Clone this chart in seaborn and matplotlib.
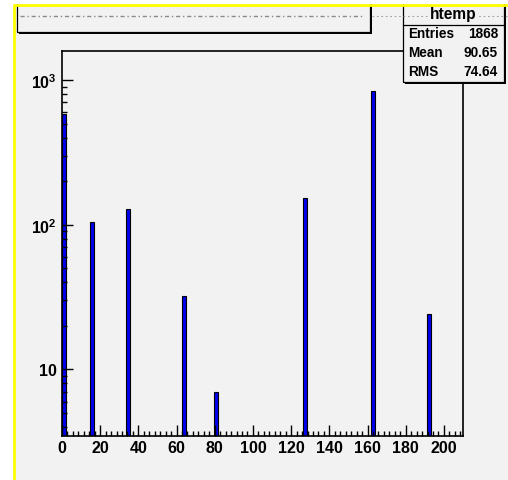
import numpy as np
import pandas as pd
import matplotlib
matplotlib.use("Agg")
import matplotlib.pyplot as plt
import seaborn as sns
from matplotlib.patches import Rectangle
from matplotlib.lines import Line2D
from matplotlib.ticker import FixedLocator, FuncFormatter, LogLocator, NullFormatter, AutoMinorLocator

# histogram content (filled value -> entries)
bin_values = [1, 16, 35, 64, 81, 127, 162, 192]
bin_counts = [578, 105, 128, 32, 7, 153, 841, 24]
x_ticks = [0, 20, 40, 60, 80, 100, 120, 140, 160, 180, 200]
y_ticks = [10, 100, 1000]
y_labels = ["10", "10$^2$", "10$^3$"]
hist_name = "htemp"
stat_names = ["Entries", "Mean", "RMS"]
stat_values = ["1868", "90.65", "74.64"]
bin_width = 2.1
x_range = (0, 210)
y_range = (3.47, 1586)

W, H = 508, 481
BG = "#f2f2f2"

plt.rcParams["font.family"] = ["Liberation Sans", "DejaVu Sans"]
plt.rcParams["font.weight"] = "bold"
plt.rcParams["mathtext.fontset"] = "custom"
plt.rcParams["mathtext.rm"] = "Liberation Sans:bold"
plt.rcParams["mathtext.default"] = "rm"


def fx(px):
    return px / W


def fy(py):
    return 1 - py / H


fig = plt.figure(figsize=(W / 100, H / 100), dpi=100, facecolor="white")

# canvas background
fig.patches.append(Rectangle((fx(14), -0.2), 1.2, fy(6) + 0.2, transform=fig.transFigure,
                             facecolor=BG, edgecolor="none", zorder=-5))

ax = fig.add_axes([fx(62), fy(437), fx(463) - fx(62), fy(52) - fy(437)])
ax.set_facecolor(BG)

df = pd.DataFrame({"value": bin_values, "entries": bin_counts})
sns.histplot(data=df, x="value", weights="entries", binwidth=bin_width, binrange=x_range,
             ax=ax, color="#0000f0", edgecolor="black", linewidth=0.8, alpha=1)
ax.set_yscale("log")
ax.set_xlim(*x_range)
ax.set_ylim(*y_range)
ax.set_xlabel("")
ax.set_ylabel("")

ax.xaxis.set_major_locator(FixedLocator(x_ticks))
ax.xaxis.set_minor_locator(AutoMinorLocator(7))
ax.yaxis.set_major_locator(FixedLocator(y_ticks))
ax.yaxis.set_major_formatter(FuncFormatter(lambda v, p: y_labels[y_ticks.index(round(v))] if round(v) in y_ticks else ""))
ax.yaxis.set_minor_locator(LogLocator(base=10, subs=np.arange(2, 10)))
ax.yaxis.set_minor_formatter(NullFormatter())

ax.tick_params(which="both", direction="in", top=False, right=False, width=1.0, color="black")
ax.tick_params(which="major", length=8, labelsize=11.5, pad=3)
ax.tick_params(which="minor", length=3.6)
ax.tick_params(axis="y", which="major", pad=4)
for lab in ax.get_xticklabels() + ax.get_yticklabels():
    lab.set_fontweight("bold")
for sp in ax.spines.values():
    sp.set_color("black")
    sp.set_linewidth(1.2)

# title pave (title text came out garbled in the original)
fig.patches.append(Rectangle((fx(19), fy(35)), (370 - 17) / W, 0.2, transform=fig.transFigure,
                             facecolor="black", edgecolor="none", zorder=5))
fig.patches.append(Rectangle((fx(17), fy(33)), (370 - 17) / W, 0.2, transform=fig.transFigure,
                             facecolor=BG, edgecolor="black", linewidth=0.9, zorder=6))

# stats box
fig.patches.append(Rectangle((fx(405), fy(85)), (504 - 403) / W, 0.3, transform=fig.transFigure,
                             facecolor="black", edgecolor="none", zorder=7))
fig.patches.append(Rectangle((fx(403), fy(83)), (504 - 403) / W, 0.3, transform=fig.transFigure,
                             facecolor=BG, edgecolor="black", linewidth=0.9, zorder=8))
fig.lines.append(Line2D([fx(403), fx(504)], [fy(26), fy(26)], transform=fig.transFigure,
                        color="black", linewidth=0.9, zorder=9))

fig.lines.append(Line2D([fx(20), fx(362)], [fy(17), fy(17)], transform=fig.transFigure,
                        color="#8a8a8a", linewidth=1.0, linestyle=(0, (3, 2, 1, 2)), zorder=10))
fig.lines.append(Line2D([fx(372), fx(508)], [fy(17), fy(17)], transform=fig.transFigure,
                        color="#a0a0a0", linewidth=0.8, linestyle=(0, (1.5, 2.5)), zorder=10))

fig.text(fx(453), fy(15), hist_name, ha="center", va="center", fontsize=11.2,
         fontweight="bold", zorder=11, bbox=dict(facecolor=BG, edgecolor="none", pad=0.5))
for i, (name, val) in enumerate(zip(stat_names, stat_values)):
    yy = fy(34 + i * 19)
    fig.text(fx(408), yy, name, ha="left", va="center", fontsize=9.8, fontweight="bold", zorder=11)
    fig.text(fx(498), yy, val, ha="right", va="center", fontsize=9.8, fontweight="bold", zorder=11)

# yellow highlight border of the canvas, on top of everything
fig.patches.append(Rectangle((0, 0), fx(13), 1, transform=fig.transFigure,
                             facecolor="white", edgecolor="none", zorder=20))
fig.patches.append(Rectangle((0, fy(5)), 1, 1 - fy(5), transform=fig.transFigure,
                             facecolor="white", edgecolor="none", zorder=20))
fig.lines.append(Line2D([fx(14), fx(14)], [0, fy(6)], transform=fig.transFigure,
                        color="#ffff00", linewidth=2.0, zorder=21, solid_capstyle="butt"))
fig.lines.append(Line2D([fx(13), 1], [fy(6), fy(6)], transform=fig.transFigure,
                        color="#ffff00", linewidth=2.0, zorder=21, solid_capstyle="butt"))

fig.savefig("out.png", dpi=100, facecolor="white")
